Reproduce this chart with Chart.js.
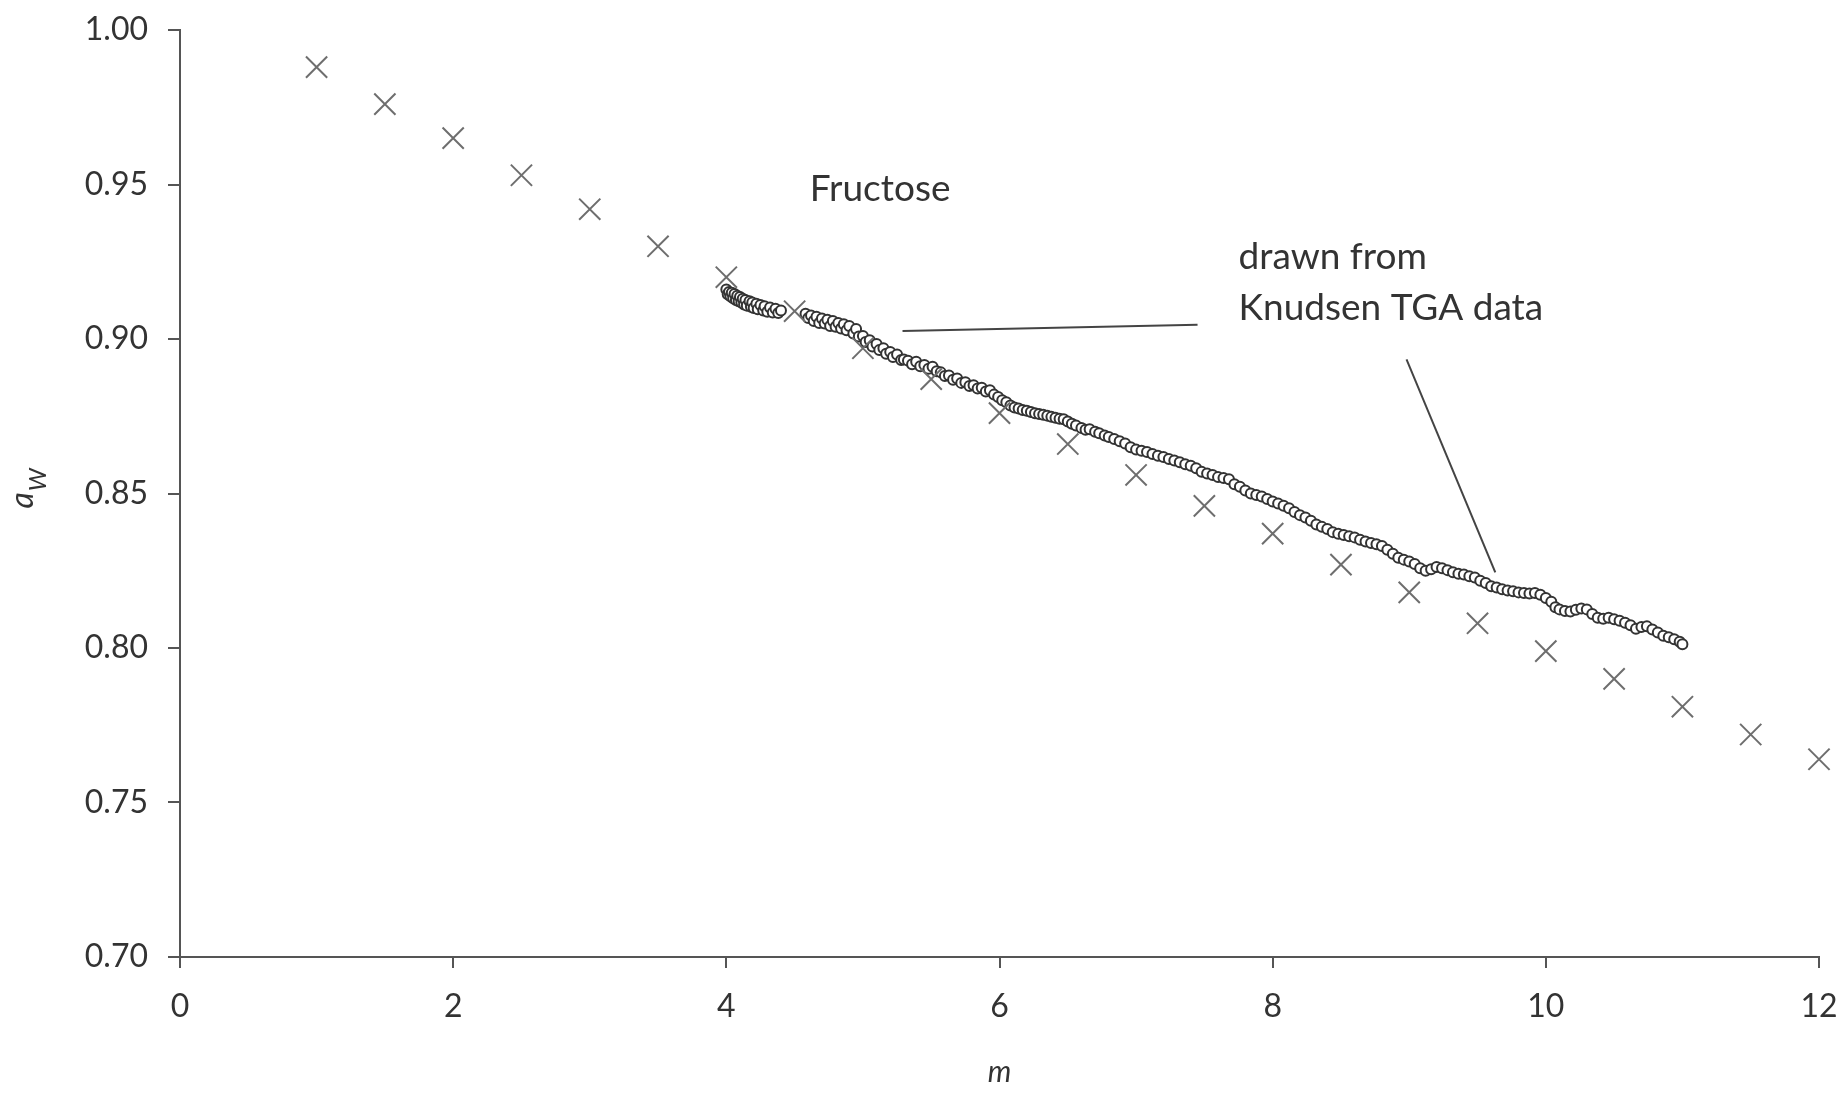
<!DOCTYPE html>
<html>
<head>
<meta charset="utf-8">
<script src="https://cdn.jsdelivr.net/npm/chart.js@4.4.1/dist/chart.umd.min.js"></script>
<style>
  html, body { margin: 0; padding: 0; background: #fff; }
  canvas { display: block; }
</style>
</head>
<body>
<canvas id="chart" width="1844" height="1093"></canvas>
<script>
// water activity of fructose solutions vs molality
const crossM = [1, 1.5, 2, 2.5, 3, 3.5, 4, 4.5, 5, 5.5, 6, 6.5, 7, 7.5, 8, 8.5, 9, 9.5, 10, 10.5, 11, 11.5, 12]
const crossAw = [0.988, 0.976, 0.965, 0.953, 0.942, 0.930, 0.920, 0.909, 0.897, 0.887, 0.876, 0.866, 0.856, 0.846, 0.837, 0.827, 0.818, 0.808, 0.799, 0.790, 0.781, 0.772, 0.764]

// Knudsen TGA points
const knudsenM = [
  4.00, 4.01, 4.02, 4.03, 4.04, 4.05, 4.06, 4.07, 4.08, 4.09, 4.10, 4.11, 4.12, 4.13, 4.14, 4.15,
  4.17, 4.18, 4.19, 4.20, 4.22, 4.23, 4.25, 4.27, 4.28, 4.30, 4.32, 4.34, 4.36, 4.38, 4.40,
  4.58, 4.60, 4.62, 4.64, 4.66, 4.68, 4.70, 4.72, 4.74, 4.76, 4.78, 4.80, 4.82, 4.84, 4.86, 4.88,
  4.90, 4.93, 4.95, 4.97, 5.00, 5.02, 5.05, 5.07, 5.10, 5.12, 5.15, 5.17, 5.20, 5.22, 5.25, 5.28, 5.30,
  5.33, 5.36, 5.39, 5.42, 5.45, 5.48, 5.51, 5.54, 5.57, 5.60, 5.63, 5.66, 5.69, 5.72, 5.75, 5.78,
  5.81, 5.84, 5.87, 5.90, 5.93, 5.96, 5.99,
  6.02, 6.05, 6.08, 6.11, 6.14, 6.17, 6.20, 6.23, 6.26, 6.29, 6.32, 6.35, 6.38, 6.41, 6.44, 6.47,
  6.50, 6.53, 6.56, 6.60, 6.63, 6.66, 6.70, 6.73, 6.77, 6.80, 6.84, 6.88, 6.92, 6.96, 7.00,
  7.04, 7.08, 7.12, 7.16, 7.20, 7.24, 7.28, 7.32, 7.36, 7.40, 7.44, 7.48, 7.52, 7.56, 7.60, 7.64,
  7.68, 7.72, 7.76, 7.80, 7.84, 7.88, 7.92, 7.96, 8.00,
  8.04, 8.08, 8.12, 8.16, 8.20, 8.24, 8.28, 8.32, 8.36, 8.40, 8.44, 8.48, 8.52, 8.56, 8.60, 8.64,
  8.68, 8.72, 8.76, 8.80, 8.84, 8.88, 8.92, 8.96, 9.00,
  9.04, 9.08, 9.12, 9.16, 9.20, 9.24, 9.28, 9.32, 9.36, 9.40, 9.44, 9.48, 9.52, 9.56, 9.60, 9.64,
  9.68, 9.72, 9.76, 9.80, 9.84, 9.88, 9.92, 9.96, 10.00,
  10.04, 10.07, 10.10, 10.14, 10.18, 10.22, 10.26, 10.30, 10.34, 10.38, 10.42, 10.46, 10.50, 10.54,
  10.58, 10.62, 10.66, 10.70, 10.74, 10.78, 10.82, 10.86, 10.90, 10.94, 10.98, 11.00
]
const knudsenAw = [
  0.9160, 0.9145, 0.9152, 0.9138, 0.9150, 0.9132, 0.9146, 0.9126, 0.9140, 0.9122, 0.9136, 0.9118, 0.9130, 0.9112, 0.9126, 0.9108,
  0.9122, 0.9104, 0.9118, 0.9100, 0.9114, 0.9096, 0.9110, 0.9092, 0.9106, 0.9088, 0.9102, 0.9086, 0.9098, 0.9084, 0.9092,
  0.9082, 0.9068, 0.9076, 0.9058, 0.9072, 0.9052, 0.9066, 0.9050, 0.9062, 0.9042, 0.9058, 0.9040, 0.9052, 0.9034, 0.9048, 0.9028,
  0.9042, 0.9018, 0.9032, 0.9008, 0.9010, 0.8990, 0.8996, 0.8976, 0.8984, 0.8964, 0.8970, 0.8952, 0.8958, 0.8942, 0.8950, 0.8932, 0.8934,
  0.8930, 0.8918, 0.8926, 0.8912, 0.8916, 0.8904, 0.8910, 0.8896, 0.8892, 0.8880, 0.8882, 0.8868, 0.8872, 0.8858, 0.8860, 0.8848,
  0.8850, 0.8840, 0.8842, 0.8830, 0.8834, 0.8820, 0.8812,
  0.8802, 0.8795, 0.8785, 0.8778, 0.8775, 0.8770, 0.8768, 0.8764, 0.8760, 0.8757, 0.8755, 0.8752, 0.8748, 0.8745, 0.8742, 0.8740,
  0.8733, 0.8726, 0.8720, 0.8712, 0.8706, 0.8708, 0.8700, 0.8695, 0.8688, 0.8683, 0.8676, 0.8669, 0.8662, 0.8650, 0.8642,
  0.8638, 0.8634, 0.8628, 0.8622, 0.8618, 0.8612, 0.8607, 0.8601, 0.8595, 0.8590, 0.8582, 0.8570, 0.8565, 0.8560, 0.8553, 0.8550,
  0.8546, 0.8530, 0.8522, 0.8510, 0.8500, 0.8495, 0.8490, 0.8482, 0.8474,
  0.8468, 0.8460, 0.8452, 0.8440, 0.8430, 0.8422, 0.8412, 0.8400, 0.8392, 0.8385, 0.8375, 0.8370, 0.8366, 0.8362, 0.8358, 0.8350,
  0.8345, 0.8340, 0.8336, 0.8330, 0.8318, 0.8305, 0.8292, 0.8286, 0.8280,
  0.8272, 0.8258, 0.8250, 0.8255, 0.8262, 0.8258, 0.8252, 0.8245, 0.8240, 0.8238, 0.8232, 0.8228, 0.8218, 0.8210, 0.8200, 0.8196,
  0.8190, 0.8186, 0.8184, 0.8180, 0.8178, 0.8176, 0.8178, 0.8172, 0.8162,
  0.8150, 0.8132, 0.8125, 0.8120, 0.8118, 0.8124, 0.8128, 0.8125, 0.8110, 0.8098, 0.8095, 0.8098, 0.8093, 0.8088,
  0.8082, 0.8074, 0.8062, 0.8068, 0.8070, 0.8060, 0.8050, 0.8040, 0.8035, 0.8028, 0.8020, 0.8012
]

const xTicks = [0, 2, 4, 6, 8, 10, 12]
const yTicks = [0.70, 0.75, 0.80, 0.85, 0.90, 0.95, 1.00]

// annotation texts and leader lines (data coordinates)
const notes = [
  { text: "Fructose", m: 4.61, aw: 0.9484 },
  { text: "drawn from", m: 7.75, aw: 0.9264 },
  { text: "Knudsen TGA data", m: 7.75, aw: 0.9099 },
]
const leaders = [
  [5.29, 0.9026, 7.45, 0.9046],
  [8.98, 0.8934, 9.63, 0.8245],
]

const TEXT = "#333333"
const AXIS = "#555555"

const annotate = {
  id: "annotate",
  afterDatasetsDraw(chart) {
    const { ctx, scales: { x, y } } = chart
    ctx.save()
    ctx.strokeStyle = "#444"
    ctx.lineWidth = 2
    leaders.forEach(([m1, a1, m2, a2]) => {
      ctx.beginPath()
      ctx.moveTo(x.getPixelForValue(m1), y.getPixelForValue(a1))
      ctx.lineTo(x.getPixelForValue(m2), y.getPixelForValue(a2))
      ctx.stroke()
    })
    ctx.fillStyle = TEXT
    ctx.font = "37px Lato"
    ctx.textBaseline = "middle"
    ctx.textAlign = "left"
    notes.forEach(n => {
      ctx.fillText(n.text, x.getPixelForValue(n.m), y.getPixelForValue(n.aw))
    })

    // y axis title: a with subscript W, rotated
    const cy = (y.top + y.bottom) / 2 + 15
    ctx.translate(33, cy)
    ctx.rotate(-Math.PI / 2)
    ctx.textBaseline = "alphabetic"
    ctx.font = "italic 32px Lato"
    ctx.fillText("a", 0, 0)
    const w = ctx.measureText("a").width
    ctx.font = "italic 24px Lato"
    ctx.fillText("W", w + 1, 13)
    ctx.restore()
  }
}

Chart.defaults.font.family = "Lato, sans-serif"
Chart.defaults.color = TEXT

new Chart(document.getElementById("chart"), {
  type: "scatter",
  data: {
    datasets: [
      {
        label: "Knudsen TGA",
        data: knudsenM.map((m, i) => ({ x: m, y: knudsenAw[i] })),
        pointStyle: "circle",
        pointRadius: 5,
        pointBorderWidth: 2,
        pointBorderColor: "#333333",
        pointBackgroundColor: "#ffffff",
        order: 2,
      },
      {
        label: "aw",
        data: crossM.map((m, i) => ({ x: m, y: crossAw[i] })),
        pointStyle: "crossRot",
        pointRadius: 15,
        pointBorderWidth: 2,
        pointBorderColor: "#6e6e6e",
        clip: false,
        order: 1,
      },
    ],
  },
  options: {
    responsive: false,
    animation: false,
    devicePixelRatio: 1,
    layout: { padding: { left: 0, right: 25, top: 30, bottom: 0 } },
    plugins: { legend: { display: false }, tooltip: { enabled: false } },
    scales: {
      x: {
        type: "linear",
        min: 0,
        max: 12,
        afterFit: s => {
          s.height = 136
          s.paddingLeft = 0
          s.paddingRight = 0
        },
        afterBuildTicks: s => { s.ticks = xTicks.map(v => ({ value: v })) },
        border: { display: true, color: AXIS, width: 2 },
        grid: { drawOnChartArea: false, drawTicks: true, tickLength: 11, color: AXIS, lineWidth: 2 },
        ticks: { font: { size: 32 }, color: TEXT, padding: 19, maxRotation: 0 },
        title: { display: true, text: "m", font: { size: 30, style: "italic" }, color: TEXT, padding: { top: 0, bottom: 3 } },
      },
      y: {
        type: "linear",
        min: 0.70,
        max: 1.00,
        afterFit: s => {
          s.width = 180
          s.paddingTop = 0
          s.paddingBottom = 0
        },
        afterBuildTicks: s => { s.ticks = yTicks.map(v => ({ value: v })) },
        border: { display: true, color: AXIS, width: 2 },
        grid: { drawOnChartArea: false, drawTicks: true, tickLength: 12, color: AXIS, lineWidth: 2 },
        ticks: { font: { size: 32 }, color: TEXT, padding: 20, callback: v => v.toFixed(2) },
      },
    },
  },
  plugins: [annotate],
})
</script>
</body>
</html>
